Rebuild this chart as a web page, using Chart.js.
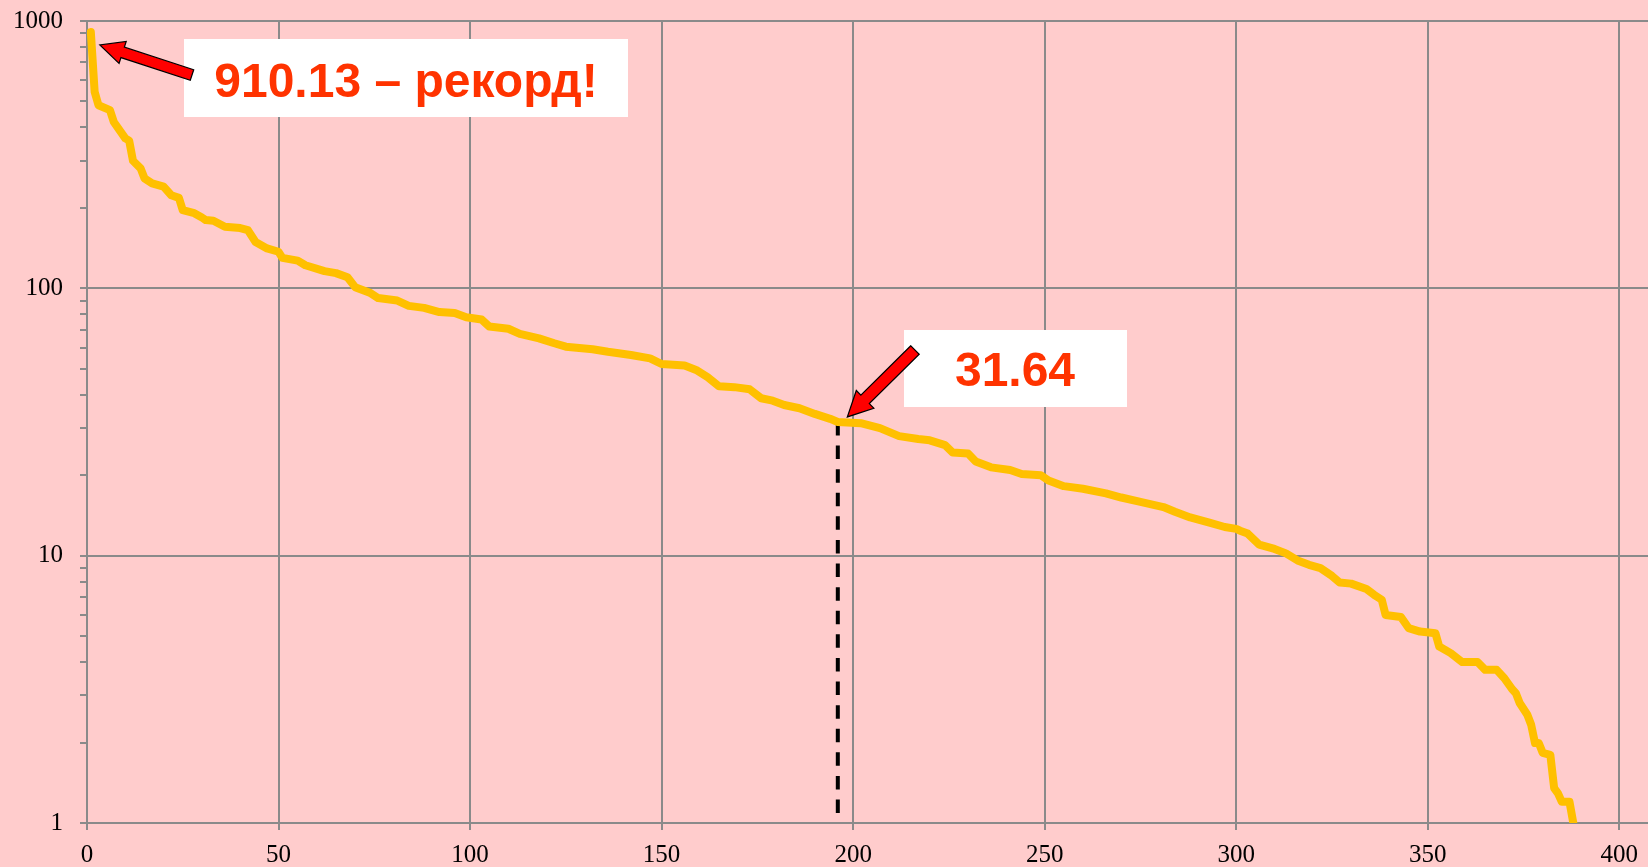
<!DOCTYPE html>
<html>
<head>
<meta charset="utf-8">
<script src="https://cdn.jsdelivr.net/npm/chart.js@4/dist/chart.umd.min.js"></script>
<style>
  html, body { margin: 0; padding: 0; background: #FFCCCC; overflow: hidden; }
  canvas { display: block; }
</style>
</head>
<body>
<canvas id="chart" width="1648" height="867"></canvas>
<script>
// rank of each result and its value
const ranks = [
  1, 2, 3, 6, 7, 10, 11, 12, 14, 15,
  17, 20, 22, 24, 25, 28, 30, 31, 33, 36,
  40, 42, 44, 47, 50, 51, 55, 57, 62, 65,
  68, 70, 74, 76, 81, 84, 88, 92, 96, 99,
  103, 105, 110, 113, 118, 122, 125, 132, 136, 142,
  147, 150, 156, 159, 162, 165, 169, 173, 176, 179,
  182, 186, 190, 194, 196, 202, 207, 212, 217, 220,
  224, 226, 230, 232, 236, 241, 244, 249, 251, 255,
  260, 266, 270, 275, 281, 284, 288, 293, 297, 300,
  301, 303, 306, 310, 313, 316, 319, 322, 325, 327,
  330, 334, 336, 338, 339, 343, 345, 348, 352, 353,
  356, 359, 363, 365, 368, 370, 372, 373, 374, 376,
  377, 378, 379, 380, 382, 383, 384, 385, 387, 388
];
const values = [
  910.13, 543, 484, 464, 419, 364, 357, 300, 281, 258,
  247, 240, 223, 218, 196, 191, 184, 180, 179, 170,
  168, 165, 149, 141, 137, 130, 127, 122, 116, 114,
  110, 101, 96, 92, 90, 86, 84.5, 81.5, 80.9, 78,
  76.5, 72, 70.6, 67.5, 65, 62.3, 60.5, 59.2, 57.9, 56.3,
  54.7, 52.1, 51.4, 49.5, 46.5, 43, 42.7, 41.9, 38.8, 38,
  36.6, 35.6, 33.9, 32.5, 31.64, 31.3, 30, 28, 27.3, 27,
  25.9, 24.3, 24.1, 22.5, 21.4, 20.9, 20.2, 20, 19.1, 18.2,
  17.8, 17.1, 16.5, 15.9, 15.2, 14.6, 13.9, 13.3, 12.8, 12.6,
  12.4, 12.1, 11, 10.6, 10.2, 9.6, 9.24, 8.98, 8.4, 7.93,
  7.86, 7.5, 7.14, 6.84, 6.0, 5.9, 5.36, 5.2, 5.13, 4.57,
  4.32, 4.0, 4.0, 3.74, 3.74, 3.48, 3.17, 3.06, 2.81, 2.54,
  2.33, 1.99, 1.99, 1.83, 1.8, 1.35, 1.29, 1.2, 1.2, 1.0
];

const xTickStep = 50;
const yLabels = [1, 10, 100, 1000];

const recordRank = 1;
const recordValue = 910.13;
const recordText = '910.13 – рекорд!';
const markRank = 196;
const markValue = 31.64;
const markFloor = 1.09;
const markText = '31.64';

const gridColor = '#8a8a8a';
const tickFont = { family: '"Liberation Serif", "Times New Roman", serif', size: 25 };

function wholeMantissa(v) {
  const m = v / Math.pow(10, Math.floor(Math.log10(v) + 1e-9));
  return Math.abs(m - Math.round(m)) < 1e-6;
}

function drawArrow(ctx, tail, tip, shaftW, headW, headLen) {
  const dx = tip.x - tail.x, dy = tip.y - tail.y;
  const len = Math.hypot(dx, dy);
  const ux = dx / len, uy = dy / len;
  const nx = -uy, ny = ux;
  const bx = tip.x - ux * headLen, by = tip.y - uy * headLen;
  const pts = [
    [tail.x + nx * shaftW / 2, tail.y + ny * shaftW / 2],
    [bx + nx * shaftW / 2, by + ny * shaftW / 2],
    [bx + nx * headW / 2, by + ny * headW / 2],
    [tip.x, tip.y],
    [bx - nx * headW / 2, by - ny * headW / 2],
    [bx - nx * shaftW / 2, by - ny * shaftW / 2],
    [tail.x - nx * shaftW / 2, tail.y - ny * shaftW / 2]
  ];
  ctx.beginPath();
  pts.forEach((p, i) => i ? ctx.lineTo(p[0], p[1]) : ctx.moveTo(p[0], p[1]));
  ctx.closePath();
  ctx.fillStyle = '#FF0000';
  ctx.fill();
  ctx.lineWidth = 1.2;
  ctx.strokeStyle = '#000';
  ctx.stroke();
}

function drawLabel(ctx, box, text, cx, baseline) {
  ctx.fillStyle = '#FFFFFF';
  ctx.fillRect(box[0], box[1], box[2], box[3]);
  ctx.font = 'bold 48px "Liberation Sans", Arial, sans-serif';
  ctx.fillStyle = '#FF3300';
  ctx.textAlign = 'center';
  ctx.textBaseline = 'alphabetic';
  ctx.fillText(text, cx, baseline);
}

const callouts = {
  id: 'callouts',
  afterDraw(chart) {
    const { ctx } = chart;
    const x = chart.scales.x, y = chart.scales.y;
    ctx.save();
    drawLabel(ctx, [184, 39, 444, 78], recordText, 406, 97);
    drawArrow(ctx, { x: 192, y: 75 },
      { x: x.getPixelForValue(recordRank) + 9, y: y.getPixelForValue(recordValue) + 13 }, 11, 23, 24);
    drawLabel(ctx, [904, 330, 223, 77], markText, 1015, 386);
    drawArrow(ctx, { x: 915, y: 350 },
      { x: x.getPixelForValue(markRank) + 9.5, y: y.getPixelForValue(markValue) - 5 }, 12, 25, 25);
    ctx.restore();
  }
};

new Chart(document.getElementById('chart'), {
  type: 'line',
  data: {
    datasets: [{
      data: ranks.map((r, i) => ({ x: r, y: values[i] })),
      borderColor: '#FFC000',
      borderWidth: 8,
      borderJoinStyle: 'round',
      borderCapStyle: 'round',
      pointRadius: 0,
      tension: 0,
      order: 0
    }, {
      data: [{ x: markRank, y: markValue }, { x: markRank, y: markFloor }],
      borderColor: '#000000',
      borderWidth: 4,
      borderDash: [13.5, 10.1],
      pointRadius: 0,
      order: 1
    }]
  },
  options: {
    responsive: false,
    animation: false,
    devicePixelRatio: 1,
    layout: { padding: { top: 21, right: 0, left: 0, bottom: 0 } },
    plugins: { legend: { display: false }, tooltip: { enabled: false } },
    scales: {
      x: {
        type: 'linear',
        min: 0,
        max: 407.5,
        afterBuildTicks: s => { s.ticks = s.ticks.filter(t => t.value % xTickStep === 0); },
        afterFit: s => { s.height = 44; s.paddingLeft = 0; s.paddingRight = 0; },
        ticks: {
          stepSize: xTickStep, includeBounds: false, color: '#000', font: tickFont,
          padding: 10, maxRotation: 0, autoSkip: false
        },
        grid: { color: gridColor, lineWidth: 2, tickLength: 7, tickColor: gridColor },
        border: { color: gridColor, width: 2 }
      },
      y: {
        type: 'logarithmic',
        min: 1,
        max: 1000,
        afterBuildTicks: s => { s.ticks = s.ticks.filter(t => wholeMantissa(t.value)); },
        afterFit: s => { s.width = 87; s.paddingTop = 0; s.paddingBottom = 0; },
        ticks: {
          color: '#000',
          font: tickFont,
          padding: 17,
          autoSkip: false,
          callback: v => yLabels.includes(v) ? String(v) : ''
        },
        grid: {
          color: c => yLabels.includes(c.tick.value) ? gridColor : 'rgba(0,0,0,0)',
          lineWidth: 2,
          tickLength: 7,
          tickColor: gridColor
        },
        border: { color: gridColor, width: 2 }
      }
    }
  },
  plugins: [callouts]
});
</script>
</body>
</html>
